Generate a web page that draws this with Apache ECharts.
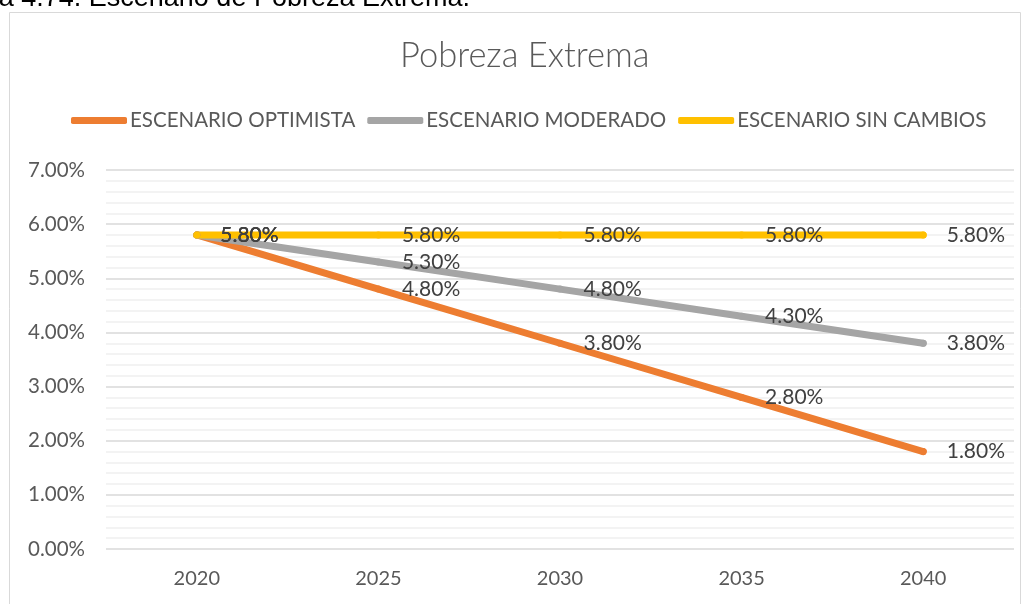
<!DOCTYPE html>
<html><head><meta charset="utf-8">
<script src="https://cdn.jsdelivr.net/npm/echarts@6/dist/echarts.min.js"></script>
<style>html,body{margin:0;padding:0;background:#fff}#c{width:1026px;height:604px}</style>
</head><body><div id="c"></div>
<script>
const years = ['2020','2025','2030','2035','2040'];
const optimista = [5.8, 4.8, 3.8, 2.8, 1.8];
const moderado = [5.8, 5.3, 4.8, 4.3, 3.8];
const sinCambios = [5.8, 5.8, 5.8, 5.8, 5.8];
const seriesNames = ['ESCENARIO OPTIMISTA','ESCENARIO MODERADO','ESCENARIO SIN CAMBIOS'];
const colors = ['#ED7D31','#A5A5A5','#FFC000'];
const FONT = 'Lato';
const chart = echarts.init(document.getElementById('c'));
function mk(name, data, color){
  return {name, type:'line', data, symbol:'circle', symbolSize:7, showSymbol:true, color,
    itemStyle:{color},
    lineStyle:{width:7, color, cap:'round', join:'round'},
    label:{show:true, position:'right', distance:20, formatter:p=>p.value.toFixed(2)+'%',
      color:'#404040', fontSize:21, fontFamily:FONT},
    labelLayout:{hideOverlap:false},
    emphasis:{disabled:true}
  };
}
chart.setOption({
  animation:false,
  graphic:[
    {type:'rect', shape:{x:9.5,y:12.5,width:1011,height:600}, style:{fill:'none', stroke:'#d9d9d9', lineWidth:1}},
    {type:'text', x:470, y:12.5, style:{text:'Figura 4.74. Escenario de Pobreza Extrema.', fill:'#000', font:'27px "Liberation Sans"', textAlign:'right', textVerticalAlign:'bottom'}}
  ],
  title:{text:'Pobreza Extrema', left:395, top:33, textStyle:{fontFamily:FONT, fontSize:34.5, fontWeight:300, color:'#595959'}},
  legend:{top:105, left:66, itemWidth:56, itemHeight:7, itemGap:12,
    textStyle:{fontFamily:FONT, fontSize:20.5, color:'#595959', padding:[0,0,0,-2]},
    data:seriesNames.map((n,i)=>({name:n, icon:'roundRect', itemStyle:{color:colors[i]}}))},
  grid:{left:106, right:12, top:170, bottom:55},
  xAxis:{type:'category', data:years, boundaryGap:true,
    axisLine:{show:false}, axisTick:{show:false},
    axisLabel:{fontFamily:FONT, fontSize:20, color:'#595959', margin:20}},
  yAxis:{type:'value', min:0, max:7, interval:1,
    axisLabel:{formatter:v=>v.toFixed(2)+'%', fontFamily:FONT, fontSize:20.5, color:'#595959', margin:21},
    splitLine:{lineStyle:{color:'#d9d9d9', width:1.5}},
    minorTick:{show:false, splitNumber:5},
    minorSplitLine:{show:true, lineStyle:{color:'#f0f0f0', width:1.5}}},
  series:[mk(seriesNames[0], optimista, colors[0]), mk(seriesNames[1], moderado, colors[1]), mk(seriesNames[2], sinCambios, colors[2])]
});
</script></body></html>
